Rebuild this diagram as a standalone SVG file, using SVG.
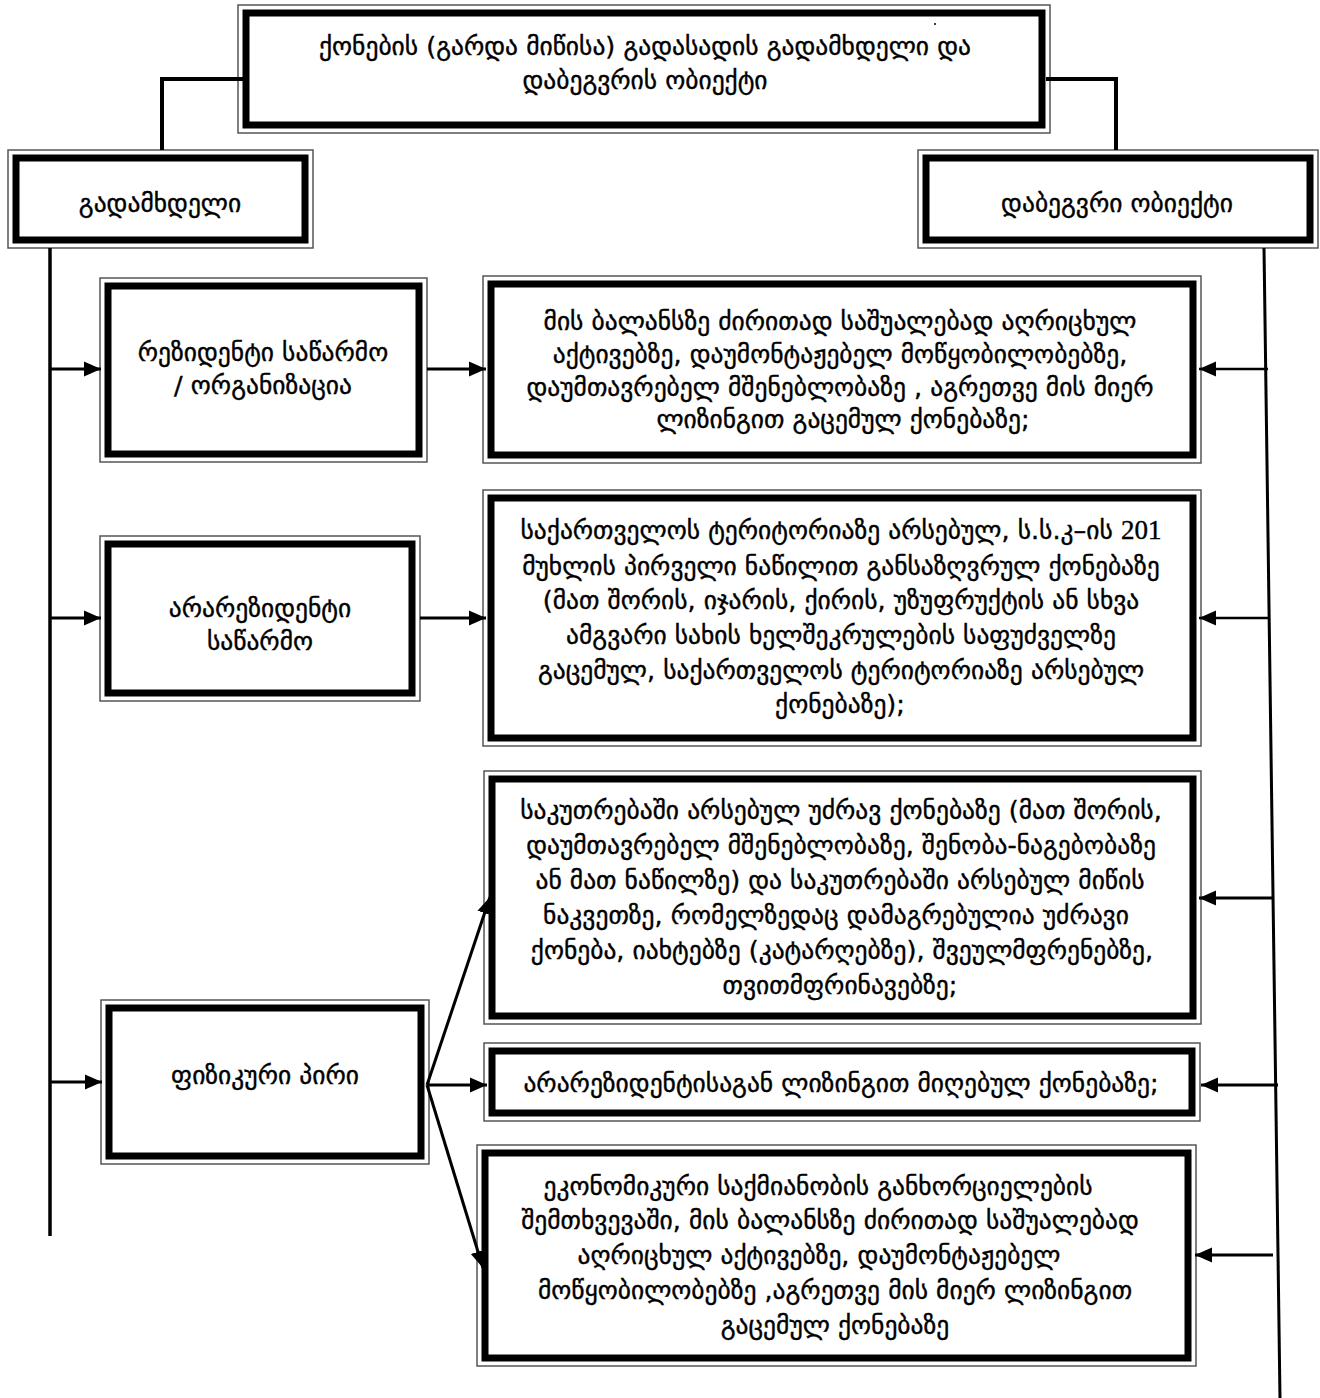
<svg xmlns="http://www.w3.org/2000/svg" width="1320" height="1398" viewBox="0 0 1320 1398">
<style>
.o{fill:#fff;stroke:#555;stroke-width:1.5}
.i{fill:none;stroke:#000;stroke-width:7}
text{font-family:"DejaVu Sans","Noto Sans",sans-serif;font-size:25.5px;fill:#000;stroke:#000;stroke-width:0.4;text-anchor:middle}
.n{font-family:"Liberation Serif",serif;font-size:27px}
.c{fill:none;stroke:#000;stroke-width:3.5}
.a{fill:none;stroke:#000;stroke-width:3;marker-end:url(#ah)}
.t{stroke-width:2.5}
</style>
<defs>
<marker id="ah" markerUnits="userSpaceOnUse" markerWidth="18" markerHeight="18" refX="17" refY="8.5" orient="auto">
<path d="M0,1 L17,8.5 L0,16 z" fill="#000"/>
</marker>
</defs>

<g id="title">
<rect class="o" x="238" y="5" width="812" height="128"/>
<rect class="i" x="246" y="13" width="796" height="112"/>
<text x="645" y="55">ქონების (გარდა მიწისა) გადასადის გადამხდელი და</text>
<text x="645" y="89">დაბეგვრის ობიექტი</text>
<circle cx="935" cy="24" r="1" fill="#000"/>
</g>

<g id="payer">
<rect class="o" x="8" y="150" width="305" height="98"/>
<rect class="i" x="16" y="158" width="289" height="82"/>
<text x="160" y="212">გადამხდელი</text>
</g>

<g id="object">
<rect class="o" x="918" y="150" width="400" height="98"/>
<rect class="i" x="926" y="158" width="384" height="82"/>
<text x="1117" y="212">დაბეგვრი ობიექტი</text>
</g>

<g id="resident">
<rect class="o" x="100" y="278" width="327" height="184"/>
<rect class="i" x="108" y="286" width="311" height="168"/>
<text x="263" y="361">რეზიდენტი საწარმო</text>
<text x="263" y="394">/ ორგანიზაცია</text>
</g>

<g id="nonresident">
<rect class="o" x="100" y="536" width="320" height="165"/>
<rect class="i" x="108" y="544" width="304" height="149"/>
<text x="260" y="617">არარეზიდენტი</text>
<text x="260" y="650">საწარმო</text>
</g>

<g id="person">
<rect class="o" x="101" y="1000" width="328" height="164"/>
<rect class="i" x="109" y="1008" width="312" height="148"/>
<text x="265" y="1084">ფიზიკური პირი</text>
</g>

<g id="objA">
<rect class="o" x="483" y="276" width="718" height="187"/>
<rect class="i" x="491" y="284" width="702" height="171"/>
<text x="840" y="330">მის ბალანსზე ძირითად საშუალებად აღრიცხულ</text>
<text x="840" y="363">აქტივებზე, დაუმონტაჟებელ მოწყობილობებზე,</text>
<text x="840" y="396">დაუმთავრებელ მშენებლობაზე , აგრეთვე მის მიერ</text>
<text x="843" y="428">ლიზინგით გაცემულ ქონებაზე;</text>
</g>

<g id="objB">
<rect class="o" x="483" y="490" width="718" height="256"/>
<rect class="i" x="491" y="498" width="702" height="240"/>
<text x="841" y="539">საქართველოს ტერიტორიაზე არსებულ, ს.ს.კ–ის <tspan class="n">201</tspan></text>
<text x="841" y="575">მუხლის პირველი ნაწილით განსაზღვრულ ქონებაზე</text>
<text x="841" y="609">(მათ შორის, იჯარის, ქირის, უზუფრუქტის ან სხვა</text>
<text x="841" y="644">ამგვარი სახის ხელშეკრულების საფუძველზე</text>
<text x="841" y="679">გაცემულ, საქართველოს ტერიტორიაზე არსებულ</text>
<text x="840" y="713">ქონებაზე);</text>
</g>

<g id="objC">
<rect class="o" x="484" y="771" width="717" height="253"/>
<rect class="i" x="492" y="779" width="701" height="237"/>
<text x="841" y="819">საკუთრებაში არსებულ უძრავ ქონებაზე (მათ შორის,</text>
<text x="841" y="854">დაუმთავრებელ მშენებლობაზე, შენობა-ნაგებობაზე</text>
<text x="840" y="889">ან მათ ნაწილზე) და საკუთრებაში არსებულ მიწის</text>
<text x="836" y="924">ნაკვეთზე, რომელზედაც დამაგრებულია უძრავი</text>
<text x="842" y="959">ქონება, იახტებზე (კატარღებზე), შვეულმფრენებზე,</text>
<text x="840" y="994">თვითმფრინავებზე;</text>
</g>

<g id="objD">
<rect class="o" x="484" y="1043" width="716" height="78"/>
<rect class="i" x="492" y="1051" width="700" height="62"/>
<text x="841" y="1092">არარეზიდენტისაგან ლიზინგით მიღებულ ქონებაზე;</text>
</g>

<g id="objE">
<rect class="o" x="477" y="1145" width="719" height="221"/>
<rect class="i" x="485" y="1153" width="703" height="205"/>
<text x="818" y="1195">ეკონომიკური საქმიანობის განხორციელების</text>
<text x="830" y="1229">შემთხვევაში, მის ბალანსზე ძირითად საშუალებად</text>
<text x="819" y="1264">აღრიცხულ აქტივებზე, დაუმონტაჟებელ</text>
<text x="835" y="1299">მოწყობილობებზე ,აგრეთვე მის მიერ ლიზინგით</text>
<text x="835" y="1334">გაცემულ ქონებაზე</text>
</g>

<g id="connectors">
<polyline class="c" points="243,79 162,79 162,150" style="stroke-width:4"/>
<polyline class="c" points="1046,79 1116,79 1116,150" style="stroke-width:4"/>
<line class="c" x1="50" y1="248" x2="50" y2="1236"/>
<line class="c" x1="1264" y1="248" x2="1280" y2="1398" style="stroke-width:3"/>
<line class="a" x1="50" y1="369" x2="101" y2="369"/>
<line class="a" x1="50" y1="618" x2="101" y2="618"/>
<line class="a" x1="50" y1="1082" x2="102" y2="1082"/>
<line class="a" x1="427" y1="369" x2="486" y2="369"/>
<line class="a" x1="420" y1="618" x2="486" y2="618"/>
<line class="a" x1="427" y1="1085" x2="490" y2="897"/>
<line class="a" x1="427" y1="1085" x2="487" y2="1085"/>
<line class="a" x1="427" y1="1085" x2="483" y2="1268"/>
<line class="a t" x1="1268" y1="369" x2="1199" y2="369"/>
<line class="a t" x1="1268" y1="618" x2="1199" y2="618"/>
<line class="a" x1="1272" y1="898" x2="1199" y2="898"/>
<line class="a" x1="1278" y1="1085" x2="1201" y2="1085"/>
<line class="a" x1="1273" y1="1255" x2="1195" y2="1255"/>
</g>
</svg>
